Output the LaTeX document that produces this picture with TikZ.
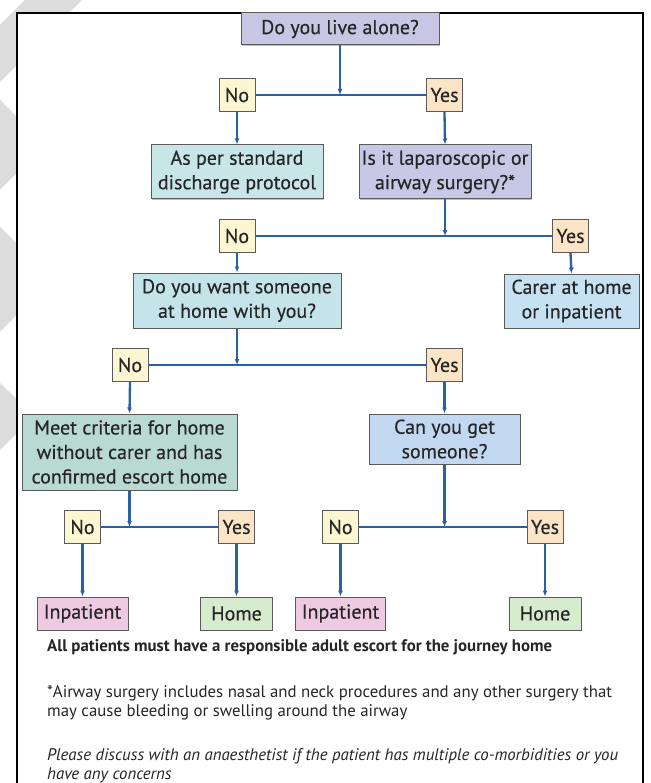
\documentclass[tikz,border=0pt]{standalone}
\usepackage{fontspec}
\setmainfont{PT Sans}
\newfontfamily\boxfont{PT Sans}[FakeBold=0.4]
\usetikzlibrary{arrows.meta,shadows}
\definecolor{lavbox}{HTML}{C9C6E4}
\definecolor{lapbox}{HTML}{C6C8E6}
\definecolor{asperbox}{HTML}{C8E6E8}
\definecolor{wantbox}{HTML}{C4E4EA}
\definecolor{carerbox}{HTML}{C6E2F2}
\definecolor{meetbox}{HTML}{B9D9D3}
\definecolor{canbox}{HTML}{C2D7F0}
\definecolor{nobox}{HTML}{FCF7D2}
\definecolor{yesbox}{HTML}{FBE5C6}
\definecolor{inpbox}{HTML}{EDC9E2}
\definecolor{homebox}{HTML}{D7EBCF}
\definecolor{bordergray}{HTML}{5A5A5A}
\definecolor{lineblue}{HTML}{2B5FA6}
\definecolor{textcol}{HTML}{262626}
\definecolor{wmgray}{HTML}{DCDCDC}
\tikzset{
  box/.style={draw=bordergray, line width=1pt, inner sep=0pt, align=center,
    font=\boxfont\fontsize{20}{24.5}\selectfont, text=textcol,
    drop shadow={shadow xshift=0.8pt, shadow yshift=-0.8pt, fill=black, opacity=0.25}},
  yn/.style={box, minimum width=36pt, minimum height=33pt},
  nob/.style={yn, fill=nobox},
  yesb/.style={yn, fill=yesbox},
  conn/.style={draw=lineblue, line width=2.3pt},
  arr/.style={conn, -{Latex[length=6pt,width=5pt]}},
  note/.style={anchor=west, inner sep=0pt, text=textcol, font=\fontsize{16.8}{19}\selectfont}
}
\begin{document}
\begin{tikzpicture}[x=1pt,y=-1pt]
\useasboundingbox (0,0) rectangle (650,783);
\clip (0,0) rectangle (650,783);
\fill[white] (0,0) rectangle (650,783);
% watermark stripes outside the frame
\fill[wmgray] (25,0) -- (82,0) -- (0,82) -- (0,25) -- cycle;
\fill[wmgray] (0,100) -- (45,145) -- (0,190) -- cycle;
\fill[wmgray] (0,227) -- (52,279) -- (0,332) -- cycle;
\fill[wmgray] (0,383) -- (34,416) -- (0,450) -- cycle;
% frame
\fill[white] (17,13) rectangle (643,800);
\draw[black, line width=2.6pt] (17,800) -- (17,13) -- (643,13) -- (643,800);

% boxes
\node[box, fill=lavbox, minimum width=198pt, minimum height=32pt] (top) at (340,29) {Do you live alone?};
\node[nob] (no1) at (237,95) {No};
\node[yesb] (yes1) at (444.5,95) {Yes};
\node[box, fill=asperbox, minimum width=172pt, minimum height=54pt] (asper) at (237,172) {As per standard\\discharge protocol};
\node[box, fill=lapbox, minimum width=172pt, minimum height=54pt] (lap) at (445,172) {Is it laparoscopic or\\airway surgery?*};
\node[nob] (no2) at (237,236) {No};
\node[yesb] (yes2) at (570.5,236) {Yes};
\node[box, fill=wantbox, minimum width=208pt, minimum height=55pt] (want) at (237,300.5) {Do you want someone\\at home with you?};
\node[box, fill=carerbox, minimum width=135pt, minimum height=54pt] (carer) at (571.5,301) {Carer at home\\or inpatient};
\node[nob] (no3) at (130,365) {No};
\node[yesb] (yes3) at (444.5,365) {Yes};
\node[box, fill=meetbox, minimum width=215pt, minimum height=76pt] (meet) at (129.5,452) {Meet criteria for home\\without carer and has\\confirmed escort home};
\node[box, fill=canbox, minimum width=151pt, minimum height=50pt] (can) at (444.5,439) {Can you get\\someone?};
\node[nob] (no4) at (82.5,527) {No};
\node[yesb] (yes4) at (236.5,527) {Yes};
\node[nob] (no5) at (340.5,527) {No};
\node[yesb] (yes5) at (545,527) {Yes};
\node[box, fill=inpbox, minimum width=91pt, minimum height=33pt] (inp1) at (82.5,613.5) {Inpatient};
\node[box, fill=homebox, minimum width=72pt, minimum height=33pt] (home1) at (236.5,613.5) {Home};
\node[box, fill=inpbox, minimum width=90pt, minimum height=33pt] (inp2) at (340.5,613.5) {Inpatient};
\node[box, fill=homebox, minimum width=72pt, minimum height=33pt] (home2) at (545,613.5) {Home};

% connectors
\draw[conn] (no1.east) -- (yes1.west);
\draw[arr] (top.south) -- (top.south |- no1.east);
\draw[arr] (no1.south) -- (asper.north);
\draw[arr] (yes1.south) -- (lap.north);
\draw[conn] (no2.east) -- (yes2.west);
\draw[arr] (lap.south) -- (lap.south |- no2.east);
\draw[arr] (no2.south) -- (want.north);
\draw[arr] (yes2.south) -- (carer.north);
\draw[conn] (no3.east) -- (yes3.west);
\draw[arr] (want.south) -- (want.south |- no3.east);
\draw[arr] (no3.south) -- (meet.north);
\draw[arr] (yes3.south) -- (can.north);
\draw[conn] (no4.east) -- (yes4.west);
\draw[arr] (meet.south) -- (meet.south |- no4.east);
\draw[arr] (no4.south) -- (inp1.north);
\draw[arr] (yes4.south) -- (home1.north);
\draw[conn] (no5.east) -- (yes5.west);
\draw[arr] (can.south) -- (can.south |- no5.east);
\draw[arr] (no5.south) -- (inp2.north);
\draw[arr] (yes5.south) -- (home2.north);

% notes
\node[note, font=\fontsize{16.8}{19}\selectfont\bfseries] (n1) at (47,647) {All patients must have a responsible adult escort for the journey home};
\node[note] (n2) at (47,693) {*Airway surgery includes nasal and neck procedures and any other surgery that};
\node[note] (n3) at (47,712) {may cause bleeding or swelling around the airway};
\node[note, font=\fontsize{16.8}{19}\selectfont\itshape] (n4) at (47,756) {Please discuss with an anaesthetist if the patient has multiple co-morbidities or you};
\node[note, font=\fontsize{16.8}{19}\selectfont\itshape] (n5) at (47,775) {have any concerns};
\end{tikzpicture}
\end{document}
